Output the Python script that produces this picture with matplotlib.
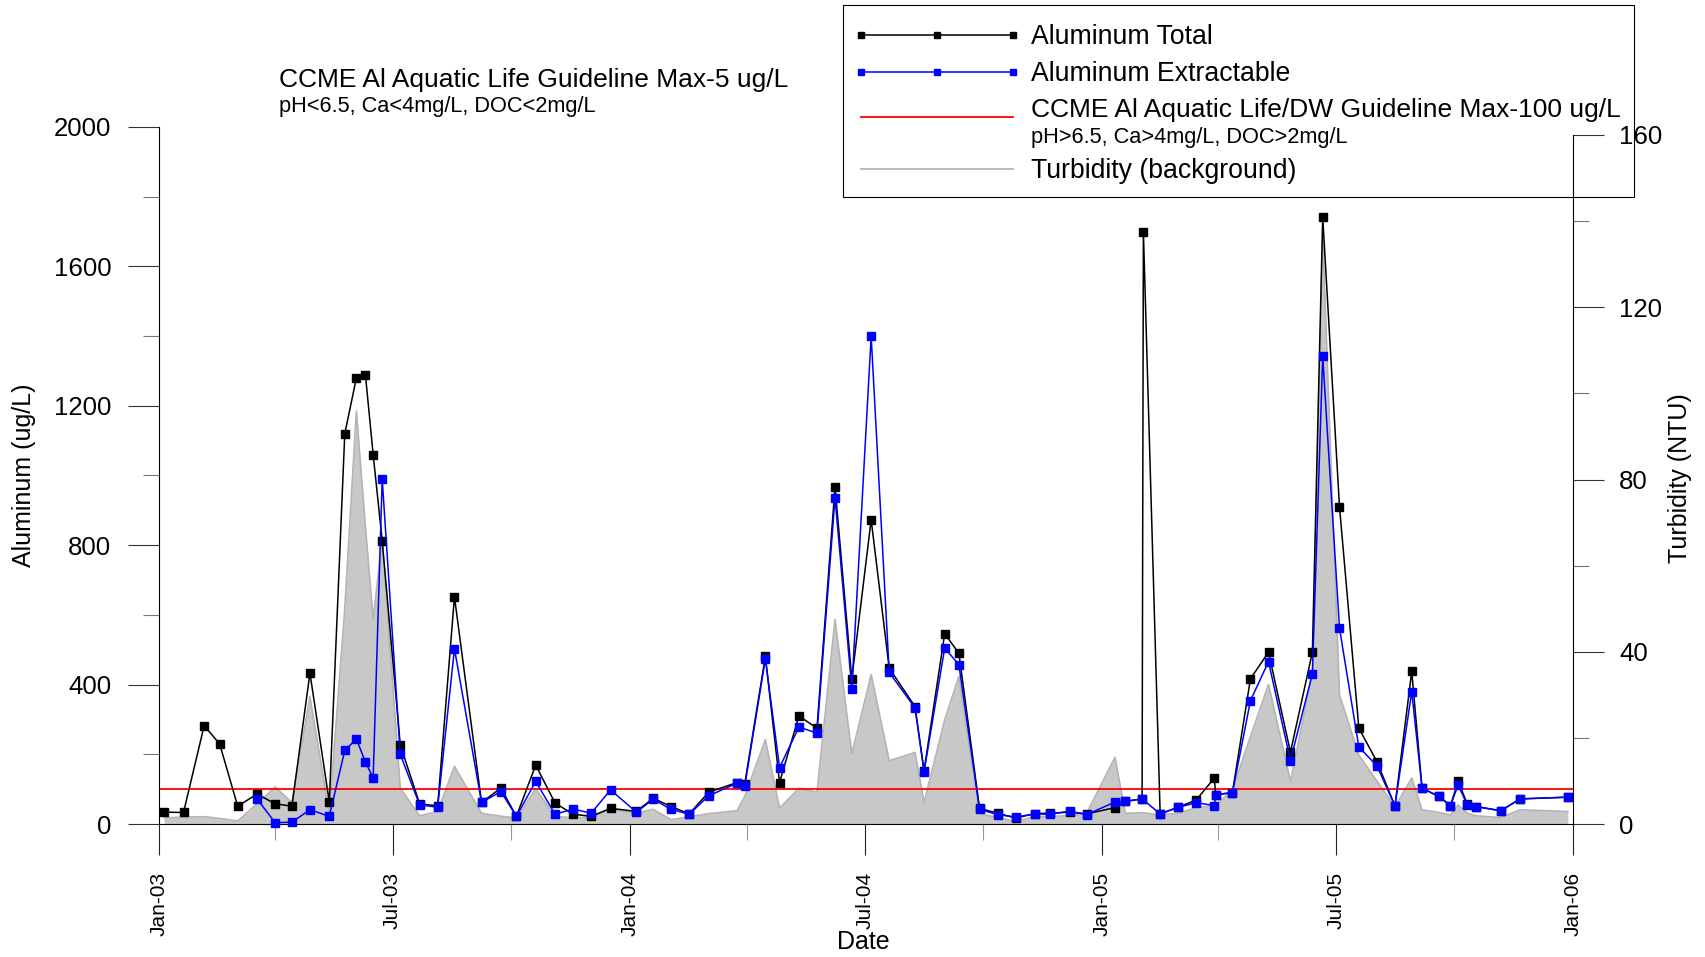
import numpy as np
import matplotlib
matplotlib.use('Agg')
import matplotlib.pyplot as plt
import matplotlib.dates as mdates
from matplotlib.lines import Line2D
from matplotlib.patches import Rectangle
from matplotlib.ticker import MultipleLocator

plt.rcParams['font.family'] = ['Liberation Sans', 'DejaVu Sans']

# sampling dates (two duplicate samples in Feb-05 and Mar-05)
sample_dates = [
    '2003-01-05', '2003-01-20', '2003-02-05', '2003-02-17', '2003-03-03',
    '2003-03-18', '2003-04-01', '2003-04-14', '2003-04-28', '2003-05-13',
    '2003-05-25', '2003-06-03', '2003-06-10', '2003-06-16', '2003-06-23',
    '2003-07-07', '2003-07-22', '2003-08-05', '2003-08-18', '2003-09-08',
    '2003-09-23', '2003-10-05', '2003-10-20', '2003-11-04', '2003-11-18',
    '2003-12-02', '2003-12-17', '2004-01-06', '2004-01-19', '2004-02-02',
    '2004-02-16', '2004-03-02', '2004-03-24', '2004-03-30', '2004-04-15',
    '2004-04-26', '2004-05-11', '2004-05-25', '2004-06-08', '2004-06-21',
    '2004-07-06', '2004-07-20', '2004-08-09', '2004-08-16', '2004-09-01',
    '2004-09-12', '2004-09-28', '2004-10-12', '2004-10-26', '2004-11-10',
    '2004-11-22', '2004-12-07', '2004-12-20', '2005-01-11', '2005-01-19',
    '2005-02-01', '2005-02-02', '2005-02-15', '2005-03-01', '2005-03-15',
    '2005-03-29', '2005-03-30', '2005-04-12', '2005-04-26', '2005-05-10',
    '2005-05-27', '2005-06-13', '2005-06-21', '2005-07-04', '2005-07-19',
    '2005-08-02', '2005-08-16', '2005-08-29', '2005-09-06', '2005-09-19',
    '2005-09-28', '2005-10-04', '2005-10-11', '2005-10-18', '2005-11-06',
    '2005-11-21', '2005-12-28']

al_total = [
    34, 33, 282, 230, 51, 86, 58, 51, 433, 63,
    1120, 1280, 1289, 1060, 813, 227, 58, 52, 652, 62,
    103, 22, 169, 60, 28, 22, 45, 36, 74, 50,
    29, 91, 119, 115, 481, 119, 310, 275, 967, 416,
    873, 447, 337, 153, 546, 490, 45, 31, 17, 30,
    31, 34, 29, 47, 65, 72, 1700, 29, 48, 69,
    132, 84, 90, 417, 493, 206, 493, 1741, 911, 275,
    179, 52, 438, 103, 79, 53, 122, 58, 50, 38,
    72, 77]

al_extract = [
    np.nan, np.nan, np.nan, np.nan, np.nan, 72, 4, 5, 41, 22,
    211, 244, 178, 132, 990, 200, 55, 48, 503, 62,
    93, 22, 122, 28, 43, 31, 98, 34, 71, 42,
    28, 81, 117, 108, 474, 162, 278, 261, 936, 388,
    1400, 435, 333, 150, 505, 457, 42, 27, 20, 29,
    28, 37, 27, 63, 65, 72, np.nan, 29, 48, 61,
    53, 84, 90, 354, 466, 182, 431, 1342, 562, 221,
    167, 52, 380, 103, 79, 53, 112, 55, 50, 38,
    72, 77]

turbidity = [
    1.4, 1.6, 1.7, 1.3, 0.7, 4.7, 8.6, 5.0, 29.6, 2.5,
    50, 95.9, 69, 47.5, 66, 8.3, 1.9, 2.9, 13.4, 2.5,
    1.8, 1.4, 8.2, 1.7, 1.5, 1.5, 3.4, 2.5, 3.4, 1.0,
    1.7, 2.4, 3.1, 6.4, 19.6, 3.7, 8.3, 7.4, 47.5, 16.3,
    34.7, 14.7, 16.6, 5.0, 24.2, 34.3, 2.4, 1.5, 0.6, 1.7,
    1.8, 1.9, 2.5, 15.5, 2.5, 2.6, 2.6, 2.1, 2.5, 3.8,
    4.3, 4.3, 7.9, 20.3, 32.4, 9.9, 35, 136, 30, 16,
    10, 4.0, 10.7, 3.3, 2.7, 2.1, 4.4, 2.5, 1.9, 1.5,
    3.3, 2.9]

guideline = 100

dates = np.array(sample_dates, dtype='datetime64[D]')
al_total = np.array(al_total, dtype=float)
al_extract = np.array(al_extract, dtype=float)
turbidity = np.array(turbidity, dtype=float)

W, H = 1705, 957
fig = plt.figure(figsize=(W / 100, H / 100), dpi=100)


def fx(px):
    return px / W


def fy(py):
    return 1 - py / H


x_left, x_right, y_base = 159, 1573, 824
xlim = (np.datetime64('2003-01-01'), np.datetime64('2006-01-01'))

#%% turbidity axis (behind)
ax2 = fig.add_axes([fx(x_left), fy(y_base), fx(x_right - x_left), (y_base - 135) / H])
ax2.fill_between(dates, turbidity, color='#c8c8c8', lw=0)
ax2.plot(dates, turbidity, color='#b4b4b4', lw=1.2)
ax2.set_xlim(xlim)
ax2.set_ylim(0, 160)
for s in ['left', 'top', 'bottom']:
    ax2.spines[s].set_visible(False)
ax2.spines['right'].set_linewidth(0.8)
ax2.yaxis.tick_right()
ax2.yaxis.set_major_locator(MultipleLocator(40))
ax2.yaxis.set_minor_locator(MultipleLocator(20))
ax2.tick_params(axis='x', which='both', bottom=False, labelbottom=False)
ax2.tick_params(axis='y', which='major', length=22.3, width=0.8, pad=11,
                labelsize=18.6, color='#333333')
ax2.tick_params(axis='y', which='minor', length=11.5, width=0.8, color='#777777')

#%% aluminum axis (front)
ax = fig.add_axes([fx(x_left), fy(y_base), fx(x_right - x_left), (y_base - 127) / H])
ax.patch.set_visible(False)
ax.axhline(guideline, color='#ff0000', lw=1.3, zorder=2)
m = ~np.isnan(al_total)
ax.plot(dates[m], al_total[m], color='black', lw=1.1, marker='s', ms=5.6,
        zorder=3, clip_on=False)
m = ~np.isnan(al_extract)
ax.plot(dates[m], al_extract[m], color='#0000ff', lw=1.1, marker='s', ms=5.6,
        zorder=4, clip_on=False)
ax.set_xlim(xlim)
ax.set_ylim(0, 2000)
ax.spines['top'].set_visible(False)
ax.spines['right'].set_visible(False)
ax.spines['left'].set_linewidth(0.8)
ax.spines['bottom'].set_linewidth(0.8)
ax.yaxis.set_major_locator(MultipleLocator(400))
ax.yaxis.set_minor_locator(MultipleLocator(200))
ax.xaxis.set_major_locator(mdates.MonthLocator(bymonth=[1, 7]))
ax.xaxis.set_minor_locator(mdates.MonthLocator(bymonth=[4, 10]))
ax.xaxis.set_major_formatter(mdates.DateFormatter('%b-%y'))
ax.tick_params(axis='y', which='major', length=22.3, width=0.8, pad=12,
               labelsize=18.6, color='#333333')
ax.tick_params(axis='y', which='minor', length=11.5, width=0.8, color='#777777')
ax.tick_params(axis='x', which='major', length=22.3, width=0.8, pad=12,
               labelsize=15, labelrotation=90, color='#222222')
ax.tick_params(axis='x', which='minor', length=11.5, width=0.8, color='#999999')

#%% labels
fig.text(fx(24), fy(475), 'Aluminum (ug/L)', rotation=90, ha='center',
         va='center', fontsize=18)
fig.text(fx(1680), fy(478), 'Turbidity (NTU)', rotation=90, ha='center',
         va='center', fontsize=18)
fig.text(fx(863), fy(942), 'Date', ha='center', va='center', fontsize=18)

fig.text(fx(279), fy(87), 'CCME Al Aquatic Life Guideline Max-5 ug/L',
         fontsize=19, va='baseline')
fig.text(fx(279), fy(112), 'pH<6.5, Ca<4mg/L, DOC<2mg/L',
         fontsize=15.7, va='baseline')

#%% legend drawn by hand
fig.add_artist(Rectangle((fx(843), fy(197)), fx(1634 - 843), (197 - 5) / H,
                         transform=fig.transFigure, fill=False,
                         ec='black', lw=0.8))
hx = [fx(861), fx(937), fx(1013)]
fig.add_artist(Line2D(hx, [fy(35)] * 3, transform=fig.transFigure,
                      color='black', lw=1.1, marker='s', ms=4.5))
fig.add_artist(Line2D(hx, [fy(72)] * 3, transform=fig.transFigure,
                      color='#0000ff', lw=1.1, marker='s', ms=4.5))
fig.add_artist(Line2D([hx[0], hx[2]], [fy(117)] * 2, transform=fig.transFigure,
                      color='#ff0000', lw=1.3))
fig.add_artist(Line2D([hx[0], hx[2]], [fy(169)] * 2, transform=fig.transFigure,
                      color='#b4b4b4', lw=1.3))
fig.text(fx(1031), fy(37), 'Aluminum Total', fontsize=19.2, va='center')
fig.text(fx(1031), fy(74), 'Aluminum Extractable', fontsize=19.2, va='center')
fig.text(fx(1031), fy(110), 'CCME Al Aquatic Life/DW Guideline Max-100 ug/L',
         fontsize=19, va='center')
fig.text(fx(1031), fy(137), 'pH>6.5, Ca>4mg/L, DOC>2mg/L',
         fontsize=15.7, va='center')
fig.text(fx(1031), fy(171), 'Turbidity (background)', fontsize=19.2, va='center')

fig.savefig('out.png', dpi=100)
